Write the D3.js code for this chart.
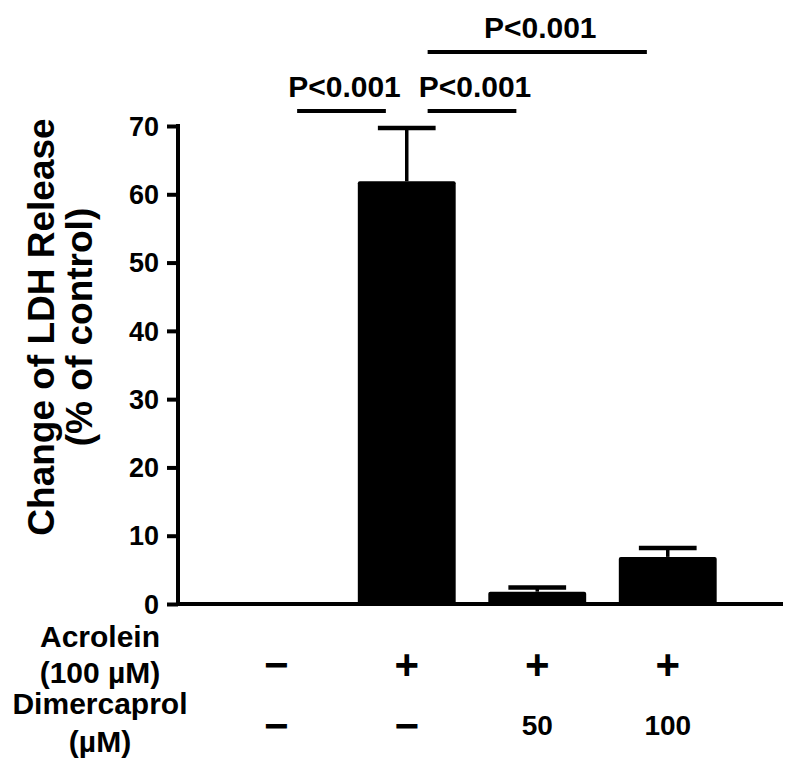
<!DOCTYPE html>
<meta charset="utf-8">
<style>
body { margin: 0; background: #fff; }
text { font-family: "Liberation Sans", Arial, sans-serif; font-weight: bold; fill: #000; }
</style>
<body>
<script src="https://cdn.jsdelivr.net/npm/d3@7"></script>
<script>
// bar groups and values
var groups = ["ctrl", "acr", "acr_d50", "acr_d100"];
var means = [0, 61.9, 1.8, 6.9];
var sems = [0, 7.8, 0.6, 1.3];
var yTicks = [0, 10, 20, 30, 40, 50, 60, 70];

// treatment table under the axis
var acroleinRow = ["\u2212", "+", "+", "+"];
var dimercaprolRow = ["\u2212", "\u2212", "50", "100"];
var rowLabels = ["Acrolein", "(100 \u00b5M)", "Dimercaprol", "(\u00b5M)"];

// significance brackets: from group, to group, stacking level, label
var sigFrom = [0, 1, 1];
var sigTo = [1, 2, 3];
var sigLevel = [0, 0, 1];
var sigText = ["P<0.001", "P<0.001", "P<0.001"];

var yTitle = ["Change of LDH Release", "(% of control)"];

var W = 800, H = 776;
var axisX = 178, axisY = 604, axisEnd = 783;

var svg = d3.select("body").append("svg")
    .attr("width", W)
    .attr("height", H);

var x = d3.scaleBand()
    .domain(groups)
    .range([211, 733])
    .paddingInner(0.25)
    .paddingOuter(0.125);

var y = d3.scaleLinear()
    .domain([0, 70])
    .range([axisY, 126]);

var cx = function(g) { return x(g) + x.bandwidth() / 2; };

// bars
svg.selectAll(".bar")
    .data(groups)
  .enter().append("rect")
    .attr("class", "bar")
    .attr("x", function(d) { return x(d); })
    .attr("width", x.bandwidth())
    .attr("y", function(d, i) { return y(means[i]); })
    .attr("height", function(d, i) { return axisY - y(means[i]); })
    .attr("rx", 2)
    .attr("fill", "#000");

// error bars (upper only)
var capW = x.bandwidth() * 0.59;
var eb = svg.selectAll(".err")
    .data(groups.filter(function(d, i) { return sems[i] > 0; }))
  .enter().append("g")
    .attr("class", "err");
eb.append("line")
    .attr("x1", cx).attr("x2", cx)
    .attr("y1", function(d) { var i = groups.indexOf(d); return y(means[i]); })
    .attr("y2", function(d) { var i = groups.indexOf(d); return y(means[i] + sems[i]); })
    .attr("stroke", "#000").attr("stroke-width", 3.5);
eb.append("line")
    .attr("x1", function(d) { return cx(d) - capW / 2; })
    .attr("x2", function(d) { return cx(d) + capW / 2; })
    .attr("y1", function(d) { var i = groups.indexOf(d); return y(means[i] + sems[i]); })
    .attr("y2", function(d) { var i = groups.indexOf(d); return y(means[i] + sems[i]); })
    .attr("stroke", "#000").attr("stroke-width", 4.5);

// y axis
var yAxis = svg.append("g")
    .attr("transform", "translate(" + axisX + ",0)")
    .call(d3.axisLeft(y).tickValues(yTicks).tickSize(11).tickPadding(8));
yAxis.select(".domain")
    .attr("d", "M0," + (y(70) - 2) + "V" + axisY)
    .attr("stroke-width", 4);
yAxis.selectAll(".tick line").attr("stroke-width", 4);
yAxis.selectAll(".tick text")
    .style("font-family", "'Liberation Sans', Arial, sans-serif")
    .style("font-weight", "bold")
    .style("font-size", "27px")
    .attr("dy", "0.34em");

// x axis line
svg.append("line")
    .attr("x1", axisX - 2).attr("x2", axisEnd)
    .attr("y1", axisY).attr("y2", axisY)
    .attr("stroke", "#000").attr("stroke-width", 4);

// y title
svg.selectAll(".ytitle")
    .data(yTitle)
  .enter().append("text")
    .attr("class", "ytitle")
    .attr("transform", function(d, i) { return "translate(" + (54 + i * 38) + ",327) rotate(-90)"; })
    .attr("text-anchor", "middle")
    .style("font-size", "37px")
    .text(function(d) { return d; });

// significance brackets
var step = x.step();
var sigBase = y(70) - 15;
sigText.forEach(function(t, i) {
  var x1 = cx(groups[sigFrom[i]]) + step * 0.16;
  var x2 = cx(groups[sigTo[i]]) - step * 0.16;
  var ly = sigBase - sigLevel[i] * 59;
  svg.append("line")
      .attr("x1", x1).attr("x2", x2)
      .attr("y1", ly).attr("y2", ly)
      .attr("stroke", "#000").attr("stroke-width", 4);
  svg.append("text")
      .attr("x", (x1 + x2) / 2 + 3)
      .attr("y", ly - 14)
      .attr("text-anchor", "middle")
      .style("font-size", "30px")
      .text(t);
});

// treatment table
svg.selectAll(".rowlab")
    .data(rowLabels)
  .enter().append("text")
    .attr("class", "rowlab")
    .attr("x", 100)
    .attr("y", function(d, i) { return [647, 683, 714, 752][i]; })
    .attr("text-anchor", "middle")
    .style("font-size", "30px")
    .text(function(d) { return d; });

svg.selectAll(".acr")
    .data(acroleinRow)
  .enter().append("text")
    .attr("class", "acr")
    .attr("x", function(d, i) { return cx(groups[i]); })
    .attr("y", 664)
    .attr("dominant-baseline", "central")
    .attr("text-anchor", "middle")
    .style("font-size", "42px")
    .text(function(d) { return d; });

svg.selectAll(".dim")
    .data(dimercaprolRow)
  .enter().append("text")
    .attr("class", "dim")
    .attr("x", function(d, i) { return cx(groups[i]); })
    .attr("y", 725)
    .attr("dominant-baseline", "central")
    .attr("text-anchor", "middle")
    .style("font-size", function(d) { return d === "\u2212" ? "42px" : "28px"; })
    .text(function(d) { return d; });
</script>
</body>
